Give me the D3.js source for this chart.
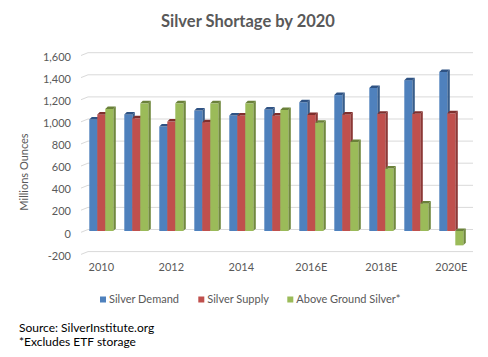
<!DOCTYPE html>
<html><head><meta charset="utf-8">
<script src="https://cdn.jsdelivr.net/npm/d3@7"></script>
<style>body{margin:0;background:#fff}svg{display:block}text{font-family:Lato,"Open Sans",sans-serif}</style>
</head><body><svg id="c" width="488" height="357"></svg>
<script>
const categories = ["2010","2011","2012","2013","2014","2015","2016E","2017E","2018E","2019E","2020E"];
const tickLabels = ["2010","2012","2014","2016E","2018E","2020E"];
const demand = [1010,1055,945,1090,1045,1100,1165,1230,1295,1365,1440];
const supply = [1055,1020,990,985,1045,1045,1050,1055,1060,1060,1065];
const aboveGround = [1105,1155,1155,1155,1155,1095,980,805,565,250,-130];
const seriesNames = ["Silver Demand","Silver Supply","Above Ground Silver*"];
const yTicks = [-200,0,200,400,600,800,1000,1200,1400,1600];

const colors = [
  {front:"#4F81BD", side:"#385D8A", top:"#2F5384"},
  {front:"#C0504D", side:"#8C3836", top:"#7F2F2D"},
  {front:"#9BBB59", side:"#71893F", top:"#6A8139"}
];
const seriesData = [demand, supply, aboveGround];

const svg = d3.select("#c");
const y = d3.scaleLinear().domain([0,1600]).range([231,231-176.8]);
const x = d3.scaleBand().domain(categories).range([83.8,468.8]);
const sub = d3.scaleBand().domain([0,1,2]).range([0,24]);
const dx = 2.5, dy = -2.5;

// gridlines (back wall with floor diagonal)
const grid = svg.append("g");
yTicks.forEach(v=>{
  const yb = y(v)-1.5;
  grid.append("path")
    .attr("d",`M81,${yb+2.8}L88,${yb}L473,${yb}`)
    .attr("fill","none").attr("stroke","#d9d9d9").attr("stroke-width",1);
});
// y tick labels
const fmt = d3.format(",");
const yAxis = d3.axisLeft(y).tickValues(yTicks).tickFormat(d => fmt(d).replace("\u2212","-")).tickSize(0).tickPadding(0);
const ya = svg.append("g").attr("transform","translate(71,2.5)").call(yAxis);
ya.select(".domain").remove();
ya.selectAll("text").attr("font-size",11).attr("fill","#595959").attr("font-family","Lato, sans-serif");

// axis title
svg.append("text").attr("transform","translate(28,172) rotate(-90)")
  .attr("text-anchor","middle").attr("font-size",11).attr("fill","#595959").text("Millions Ounces");

// bars
const bars = svg.append("g");
categories.forEach((c,i)=>{
  const gx = x(c) + (x.bandwidth()-24)/2;
  seriesData.forEach((arr,s)=>{
    const v = arr[i];
    const x0 = gx + sub(s), w = sub.bandwidth();
    const yTop = Math.min(y(v), y(0)), yBot = Math.max(y(v), y(0));
    const col = colors[s];
    const g = bars.append("g");
    g.append("path").attr("d",`M${x0+w},${yTop}L${x0+w+dx},${yTop+dy}L${x0+w+dx},${yBot+dy}L${x0+w},${yBot}Z`).attr("fill",col.side);
    g.append("rect").attr("x",x0).attr("y",yTop).attr("width",w).attr("height",yBot-yTop).attr("fill",col.front);
    g.append("path").attr("d",`M${x0},${yTop}L${x0+dx},${yTop+dy}L${x0+w+dx},${yTop+dy}L${x0+w},${yTop}Z`).attr("fill",col.top);
  });
});

// x labels
const xAxis = d3.axisBottom(x).tickValues(tickLabels).tickSize(0).tickPadding(0);
const xa = svg.append("g").attr("transform","translate(0,263)").call(xAxis);
xa.select(".domain").remove();
xa.selectAll("text").attr("font-size",11).attr("fill","#595959").attr("font-family","Lato, sans-serif").attr("dy","0.71em");

// title
svg.append("text").attr("x",248).attr("y",27).attr("text-anchor","middle")
  .attr("font-size",16.5).attr("font-weight","bold").attr("fill","#595959").text("Silver Shortage by 2020");

// legend
const legX = [100,198.3,287.3];
seriesNames.forEach((n,s)=>{
  svg.append("rect").attr("x",legX[s]).attr("y",296.5).attr("width",6).attr("height",6).attr("fill",colors[s].front);
  svg.append("text").attr("x",legX[s]+9).attr("y",303.3).attr("font-size",11).attr("fill","#595959").text(n);
});

// notes
svg.append("text").attr("x",19).attr("y",332).attr("font-size",12).attr("fill","#000").text("Source: SilverInstitute.org");
svg.append("text").attr("x",19).attr("y",346).attr("font-size",12).attr("fill","#000").text("*Excludes ETF storage");
</script></body></html>
